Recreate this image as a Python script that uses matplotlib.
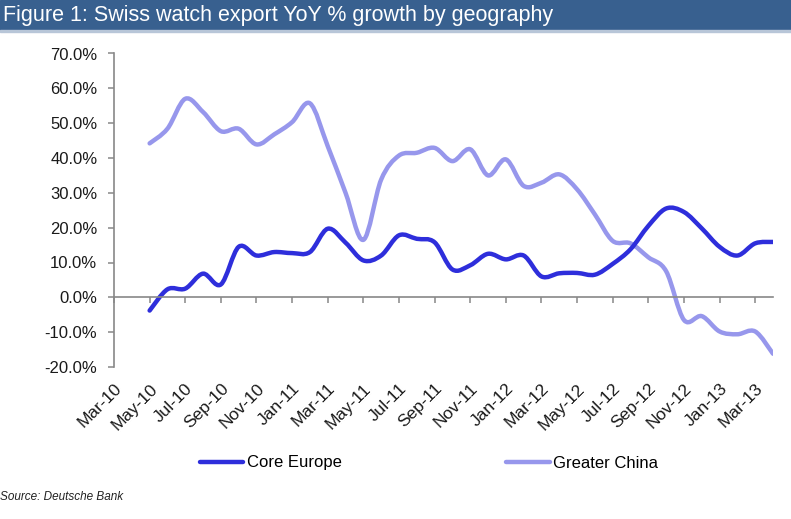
"""Swiss watch export YoY % growth by geography (Deutsche Bank figure)."""
import matplotlib
matplotlib.use("Agg")
import matplotlib.pyplot as plt
import numpy as np
from matplotlib.lines import Line2D
from matplotlib.patches import PathPatch, Rectangle
from matplotlib.path import Path

# monthly series, May-10 .. Apr-13 (axis starts at Mar-10)
first_index = 2
core_europe = [-3.8, 2.3, 2.5, 6.8, 3.7, 14.5, 12.0, 13.0, 12.7, 13.0, 19.7, 15.7,
               10.6, 12.0, 17.8, 16.8, 15.8, 8.0, 9.2, 12.5, 10.9, 12.0, 6.0, 6.9,
               7.0, 6.5, 9.6, 13.8, 20.5, 25.5, 24.5, 19.8, 14.5, 12.0, 15.5, 15.9]
greater_china = [44.2, 48.4, 57.0, 53.2, 47.7, 48.4, 43.9, 46.8, 50.3, 55.7, 43.4, 30.0,
                 16.5, 33.8, 40.7, 41.5, 42.9, 39.1, 42.5, 35.0, 39.6, 32.0, 32.9, 35.3,
                 31.0, 23.8, 16.2, 15.5, 11.5, 7.5, -6.5, -5.4, -9.8, -10.6, -9.8, -16.2]
tick_labels = ["Mar-10", "May-10", "Jul-10", "Sep-10", "Nov-10", "Jan-11", "Mar-11",
               "May-11", "Jul-11", "Sep-11", "Nov-11", "Jan-12", "Mar-12", "May-12",
               "Jul-12", "Sep-12", "Nov-12", "Jan-13", "Mar-13"]
n_months = 38  # Mar-10 .. Apr-13

W, H = 791, 519
plt.rcParams["font.family"] = ["Liberation Sans", "DejaVu Sans"]


def smooth_path(x, y):
    """Excel-style smoothed line as cubic Bezier segments through the data."""
    pts = np.column_stack([x, y]).astype(float)
    ext = np.vstack([pts[0], pts, pts[-1]])
    verts = [pts[0]]
    codes = [Path.MOVETO]
    for i in range(len(pts) - 1):
        p0, p1, p2, p3 = ext[i], ext[i + 1], ext[i + 2], ext[i + 3]
        verts += [p1 + (p2 - p0) / 6, p2 - (p3 - p1) / 6, p2]
        codes += [Path.CURVE4] * 3
    return Path(verts, codes)


fig = plt.figure(figsize=(W / 100, H / 100), dpi=100)

# title bar
fig.patches.append(Rectangle((0, 1 - 30 / H), 1, 30 / H, transform=fig.transFigure,
                             color="#38608F", zorder=0))
fig.patches.append(Rectangle((0, 1 - 32 / H), 1, 2 / H, transform=fig.transFigure,
                             color="#B8C6D8", zorder=0))
fig.text(3 / W, 1 - 16 / H, "Figure 1: Swiss watch export YoY % growth by geography",
         color="white", fontsize=15.5, va="center", ha="left")

ax = fig.add_axes([114 / W, 1 - 367 / H, (773 - 114) / W, (367 - 53.5) / H])

x = np.arange(first_index, first_index + len(core_europe))
dark = "#2E2EDB"
light = "#9797EC"
for values, color in [(greater_china, light), (core_europe, dark)]:
    patch = PathPatch(smooth_path(x, values), facecolor="none", edgecolor=color,
                      lw=3.2, capstyle="round", joinstyle="round")
    ax.add_patch(patch)

ax.set_xlim(0, n_months - 1)
ax.set_ylim(-20, 70)
yt = np.arange(-20, 71, 10)
ax.set_yticks(yt, [f"{v:.1f}%" for v in yt])

grey = "#888888"
for side in ("top", "right"):
    ax.spines[side].set_visible(False)
ax.spines["left"].set_color(grey)
ax.spines["left"].set_linewidth(1.2)
ax.spines["bottom"].set_position(("data", 0))
ax.spines["bottom"].set_color(grey)
ax.spines["bottom"].set_linewidth(1.2)

tick_pos = np.arange(0, n_months - 1, 2)
ax.set_xticks(tick_pos)
ax.tick_params(axis="x", direction="out", length=4, width=1.1, color=grey, labelbottom=False)
ax.tick_params(axis="y", direction="out", length=4, width=1.1, color=grey, pad=8,
               labelsize=12, labelcolor="#1A1A1A")

sec = ax.secondary_xaxis("bottom")
sec.spines["bottom"].set_visible(False)
sec.set_xticks(tick_pos, tick_labels, rotation=45, ha="right", va="top",
               rotation_mode="anchor")
sec.tick_params(axis="x", length=0, pad=10, labelsize=12.5, labelcolor="#1A1A1A")

handles = [Line2D([], [], color=dark, lw=3.2, solid_capstyle="round"),
           Line2D([], [], color=light, lw=3.2, solid_capstyle="round")]
fig.legend(handles, ["Core Europe", "Greater China"], loc="center",
           bbox_to_anchor=(429 / W, 1 - 463 / H), ncol=2, frameon=False, fontsize=12,
           handlelength=2.6, handletextpad=0.2, columnspacing=9.9)

fig.text(0, 1 - 497 / H, "Source: Deutsche Bank", fontsize=8.5, style="italic",
         va="center", ha="left", color="#222222")

fig.savefig("out.png", dpi=100)
